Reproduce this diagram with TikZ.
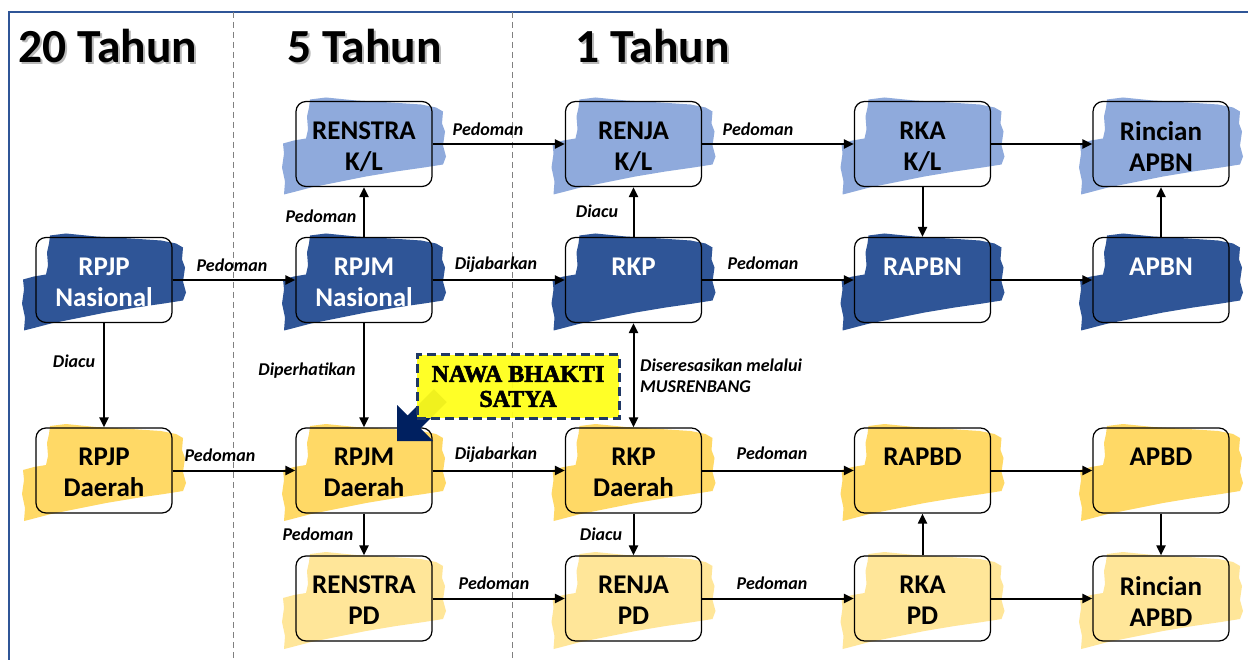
\documentclass[tikz,border=0pt]{standalone}
\usepackage{fontspec}
\setmainfont{Carlito}
\newfontfamily\nawafont{Liberation Serif}[FakeBold=2.5]
\usetikzlibrary{arrows.meta,calc}
\definecolor{dblue}{HTML}{2F5597}
\definecolor{lblue}{HTML}{8FAADC}
\definecolor{dyel}{HTML}{FFD966}
\definecolor{lyel}{HTML}{FFE699}
\definecolor{navy}{HTML}{002060}
\definecolor{nawaborder}{HTML}{1F3864}
\definecolor{nawafill}{HTML}{FFFF1A}
\definecolor{frameblue}{HTML}{2F5597}
\newcommand\mkbox[6]{%
  \begin{scope}[shift={(#2-68,#3-42.5)}]
    \fill[#4] (14,-2) -- (30,-4) -- (60,-1) -- (95,1) -- (125,3) -- (140,6) -- (147,10) -- (146,22) -- (149,30) -- (147,44) -- (150,55) -- (147,63) -- (128,66) -- (100,70) -- (70,75) -- (40,81) -- (15,86) -- (-4,91) -- (-12,93) -- (-11,80) -- (-14,66) -- (-12,52) -- (-13,42) -- (-2,39) -- (10,37) -- (12,28) -- (11,15) -- (13,6) -- cycle;
  \end{scope}
  \node[bx] (#1) at (#2,#3) {};
  \node[txt, text=#5] (#1t) at (#2,#3-22.5) {\rule{0pt}{17.5pt}#6};
}
\begin{document}
\begin{tikzpicture}[x=1pt,y=-1pt,
  bx/.style={draw=black, line width=1.2pt, rounded corners=10pt, minimum width=136pt, minimum height=85pt, inner sep=0pt},
  txt/.style={font=\fontsize{27}{31}\selectfont\bfseries, align=center, inner sep=0pt, anchor=north},
  lab/.style={font=\fontsize{18}{21}\selectfont\bfseries\itshape, inner sep=0pt},
  arr/.style={line width=2pt, -{Triangle[length=10pt,width=9pt]}},
  darr/.style={line width=2pt, {Triangle[length=10pt,width=9pt]}-{Triangle[length=10pt,width=9pt]}},
  head/.style={font=\fontsize{47.5}{50}\selectfont\bfseries, inner sep=0pt, anchor=base west},
  sep/.style={draw=gray, line width=1pt, dash pattern=on 6pt off 4pt},
]
\useasboundingbox (0,0) rectangle (1248,660);
\fill[white] (0,0) rectangle (1248,660);
% frame
\draw[frameblue, line width=1.5pt] (9,660) -- (9,12) -- (1248,12);
% separators
\draw[sep] (233,12) -- (233,660);
\draw[sep] (512,12) -- (512,660);
% headings
\node[head, text=gray!55] (h1s) at (20,65) {20 Tahun};
\node[head] (h1) at (18,63) {20 Tahun};
\node[head, text=gray!55] (h2s) at (289,65) {5 Tahun};
\node[head] (h2) at (287,63) {5 Tahun};
\node[head, text=gray!55] (h3s) at (577,65) {1 Tahun};
\node[head] (h3) at (575,63) {1 Tahun};
% boxes
\mkbox{renstrakl}{364}{144}{lblue}{black}{RENSTRA\\K/L}
\mkbox{renjakl}{633.5}{144}{lblue}{black}{RENJA\\K/L}
\mkbox{rkakl}{922.5}{144}{lblue}{black}{RKA\\K/L}
\mkbox{rincianapbn}{1161}{144}{lblue}{black}{Rincian\\APBN}
\mkbox{rpjpn}{104}{280}{dblue}{white}{RPJP\\Nasional}
\mkbox{rpjmn}{364}{280}{dblue}{white}{RPJM\\Nasional}
\mkbox{rkp}{633.5}{280}{dblue}{white}{RKP}
\mkbox{rapbn}{922.5}{280}{dblue}{white}{RAPBN}
\mkbox{apbn}{1161}{280}{dblue}{white}{APBN}
\mkbox{rpjpd}{104}{470.5}{dyel}{black}{RPJP\\Daerah}
\mkbox{rpjmd}{364}{470.5}{dyel}{black}{RPJM\\Daerah}
\mkbox{rkpd}{633.5}{470.5}{dyel}{black}{RKP\\Daerah}
\mkbox{rapbd}{922.5}{470.5}{dyel}{black}{RAPBD}
\mkbox{apbd}{1161}{470.5}{dyel}{black}{APBD}
\mkbox{renstrapd}{364}{598.5}{lyel}{black}{RENSTRA\\PD}
\mkbox{renjapd}{633.5}{598.5}{lyel}{black}{RENJA\\PD}
\mkbox{rkapd}{922.5}{598.5}{lyel}{black}{RKA\\PD}
\mkbox{rincianapbd}{1161}{598.5}{lyel}{black}{Rincian\\APBD}
% connectors
\draw[arr] (renstrakl) -- (renjakl);
\draw[arr] (renjakl) -- (rkakl);
\draw[arr] (rkakl) -- (rincianapbn);
\draw[arr] (rpjpn) -- (rpjmn);
\draw[arr] (rpjmn) -- (rkp);
\draw[arr] (rkp) -- (rapbn);
\draw[arr] (rapbn) -- (apbn);
\draw[arr] (rpjmn) -- (renstrakl);
\draw[arr] (rkp) -- (renjakl);
\draw[arr] (rkakl) -- (rapbn);
\draw[arr] (apbn) -- (rincianapbn);
\draw[arr] (rpjpn) -- (rpjpd);
\draw[arr] (rpjmn) -- (rpjmd);
\draw[darr] (rkp) -- (rkpd);
\draw[arr] (rpjpd) -- (rpjmd);
\draw[arr] (rpjmd) -- (rkpd);
\draw[arr] (rkpd) -- (rapbd);
\draw[arr] (rapbd) -- (apbd);
\draw[arr] (rpjmd) -- (renstrapd);
\draw[arr] (rkpd) -- (renjapd);
\draw[arr] (rkapd) -- (rapbd);
\draw[arr] (apbd) -- (rincianapbd);
\draw[arr] (renstrapd) -- (renjapd);
\draw[arr] (renjapd) -- (rkapd);
\draw[arr] (rkapd) -- (rincianapbd);
% labels
\node[lab] (l1) at (488,129) {Pedoman};
\node[lab] (l2) at (758,129) {Pedoman};
\node[lab] (l3) at (232,265) {Pedoman};
\node[lab] (l4) at (496,265) {Dijabarkan};
\node[lab] (l5) at (763,263) {Pedoman};
\node[lab] (l6) at (321,216) {Pedoman};
\node[lab] (l7) at (597,211) {Diacu};
\node[lab] (l8) at (74,361) {Diacu};
\node[lab] (l9) at (307,371) {Diperhatikan};
\node[lab, align=left, anchor=west, font=\fontsize{18}{21}\selectfont\bfseries\itshape] (l10) at (640,375.5) {Diseresasikan melalui\\MUSRENBANG};
\node[lab] (l11) at (220,455) {Pedoman};
\node[lab] (l12) at (496,455) {Dijabarkan};
\node[lab] (l13) at (772,453) {Pedoman};
\node[lab] (l14) at (318,534) {Pedoman};
\node[lab] (l15) at (601,534) {Diacu};
\node[lab] (l16) at (494,583) {Pedoman};
\node[lab] (l17) at (772,583) {Pedoman};
% nawa arrow
\fill[navy] (397,441) -- (397,405) -- (407.6,415.6) -- (433.9,389.3) -- (446.7,402.1) -- (420.4,428.4) -- (433,441) -- cycle;
% nawa box
\node[draw=nawaborder, line width=3pt, dash pattern=on 9pt off 5pt, fill=nawafill, fill opacity=0.94, text opacity=1,
  minimum width=202pt, minimum height=63pt, inner sep=0pt, align=center,
  font=\fontsize{24}{25}\selectfont\nawafont\bfseries] (nawa) at (518,386.5) {NAWA BHAKTI\\SATYA};
\end{tikzpicture}
\end{document}
